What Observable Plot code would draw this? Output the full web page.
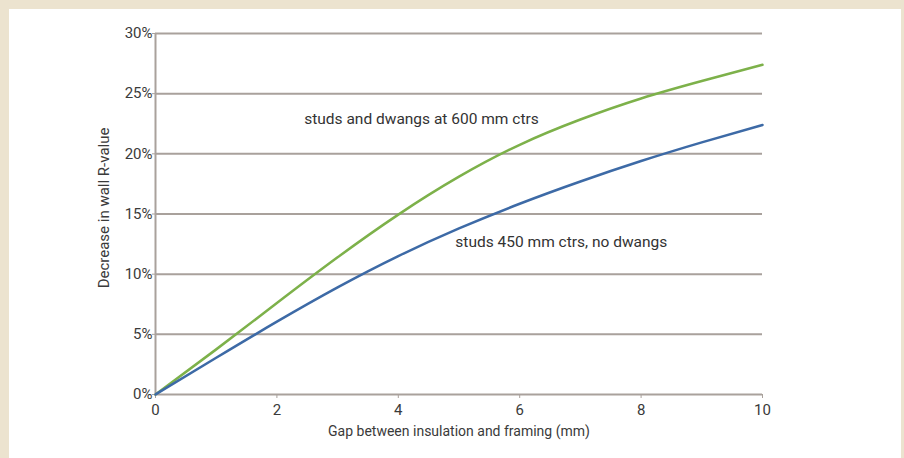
<!DOCTYPE html>
<html><head><meta charset="utf-8">
<script src="https://cdn.jsdelivr.net/npm/d3@7"></script>
<script src="https://cdn.jsdelivr.net/npm/@observablehq/plot@0.6"></script>
<style>
html,body{margin:0;padding:0;background:#ece3cf;width:904px;height:458px;overflow:hidden;}
#frame{position:absolute;left:9px;top:9px;width:892px;height:449px;background:#fff;}
#chart{position:absolute;left:0;top:0;}
</style></head><body><div id="frame"></div><div id="chart"></div>
<script>
const gapMm = [0, 1, 2, 3, 4, 5, 6, 7, 8, 9, 10];
const dwangs600 = [0, 3.75, 7.6, 11.4, 14.95, 18.1, 20.75, 22.85, 24.6, 26.05, 27.4];
const studs450 = [0, 3.05, 6.05, 8.9, 11.5, 13.8, 15.85, 17.7, 19.4, 20.95, 22.4];
const yTicks = [0, 5, 10, 15, 20, 25, 30];
const xTicks = [0, 2, 4, 6, 8, 10];
const seriesNames = ["studs and dwangs at 600 mm ctrs", "studs 450 mm ctrs, no dwangs"];
const labelX = [2.45, 4.94];
const labelY = [22.9, 12.7];
const yTitle = "Decrease in wall R-value";
const xTitle = "Gap between insulation and framing (mm)";

const greenData = gapMm.map((g, i) => ({x: g, y: dwangs600[i]}));
const blueData = gapMm.map((g, i) => ({x: g, y: studs450[i]}));
const notes = seriesNames.map((t, i) => ({text: t, x: labelX[i], y: labelY[i]}));

const grid = "#a9a19c";
const font = "Roboto, 'DejaVu Sans Condensed', sans-serif";

const chart = Plot.plot({
  width: 904, height: 458,
  marginLeft: 155, marginRight: 142, marginTop: 33, marginBottom: 64,
  style: {fontFamily: font, fontSize: "15px", background: "transparent", color: "#333"},
  x: {domain: [0, 10]},
  y: {domain: [0, 30]},
  marks: [
    Plot.ruleY(yTicks, {stroke: grid, strokeWidth: 2}),
    Plot.ruleX([0], {stroke: grid, strokeWidth: 2}),
    Plot.axisY(yTicks, {tickSize: 3, tickPadding: 0, stroke: grid, color: "#3a3a3a", fontSize: 15,
      tickFormat: d => d + "%", label: null}),
    Plot.text([yTitle], {x: -0.84, y: 15.5, text: d => d, rotate: -90, fill: "#3a3a3a", fontSize: 15}),
    Plot.axisX(xTicks, {tickSize: 4, tickPadding: 6, stroke: grid, color: "#3a3a3a", fontSize: 15, label: null}),
    Plot.axisX({ticks: [], label: xTitle, labelAnchor: "center", labelArrow: "none", labelOffset: 41, fontSize: 14, color: "#3a3a3a", tickSize: 0}),
    Plot.line(greenData, {x: "x", y: "y", stroke: "#7db14a", strokeWidth: 2.5, curve: "natural"}),
    Plot.line(blueData, {x: "x", y: "y", stroke: "#3d6aa6", strokeWidth: 2.5, curve: "natural"}),
    Plot.text(notes, {x: "x", y: "y", text: "text", textAnchor: "start", fill: "#333", fontSize: 15.5})
  ]
});
document.getElementById("chart").appendChild(chart);
</script></body></html>
